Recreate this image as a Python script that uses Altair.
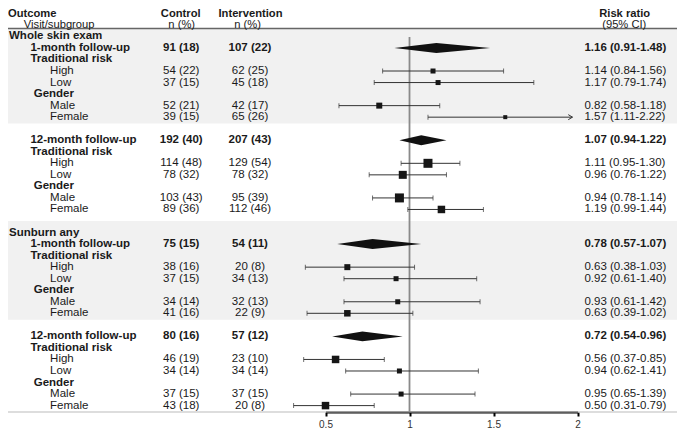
import altair as alt
import pandas as pd

# ---------------- data ----------------
outcomes = ["Whole skin exam", "Sunburn any"]
visits = ["1-month follow-up", "12-month follow-up"]
subgroups = [("Traditional risk", ["High", "Low"]), ("Gender", ["Male", "Female"])]

# one list per (outcome, visit): [overall, High, Low, Male, Female]
control_n = [
    ["91 (18)", "54 (22)", "37 (15)", "52 (21)", "39 (15)"],
    ["192 (40)", "114 (48)", "78 (32)", "103 (43)", "89 (36)"],
    ["75 (15)", "38 (16)", "37 (15)", "34 (14)", "41 (16)"],
    ["80 (16)", "46 (19)", "34 (14)", "37 (15)", "43 (18)"],
]
intervention_n = [
    ["107 (22)", "62 (25)", "45 (18)", "42 (17)", "65 (26)"],
    ["207 (43)", "129 (54)", "78 (32)", "95 (39)", "112 (46)"],
    ["54 (11)", "20 (8)", "34 (13)", "32 (13)", "22 (9)"],
    ["57 (12)", "23 (10)", "34 (14)", "37 (15)", "20 (8)"],
]
rr_est = [
    [1.16, 1.14, 1.17, 0.82, 1.57],
    [1.07, 1.11, 0.96, 0.94, 1.19],
    [0.78, 0.63, 0.92, 0.93, 0.63],
    [0.72, 0.56, 0.94, 0.95, 0.50],
]
rr_lo = [
    [0.91, 0.84, 0.79, 0.58, 1.11],
    [0.94, 0.95, 0.76, 0.78, 0.99],
    [0.57, 0.38, 0.61, 0.61, 0.39],
    [0.54, 0.37, 0.62, 0.65, 0.31],
]
rr_hi = [
    [1.48, 1.56, 1.74, 1.18, 2.22],
    [1.22, 1.30, 1.22, 1.14, 1.44],
    [1.07, 1.03, 1.40, 1.42, 1.02],
    [0.96, 0.85, 1.41, 1.39, 0.79],
]
# relative weight of each subgroup estimate (square size): High, Low, Male, Female
weights = [
    [5, 5, 6, 4],
    [9, 8, 9, 7.5],
    [6, 5, 5, 6.5],
    [7.5, 5, 5, 7.5],
]
x_ticks = [0.5, 1, 1.5, 2]
x_clip = 1.97

# ---------------- table building ----------------
rows = []
r = 0
for oi, outcome in enumerate(outcomes):
    if oi > 0:
        r += 1
    rows.append(dict(row=r, kind="section", label=outcome))
    r += 1
    for vi, visit in enumerate(visits):
        if vi > 0:
            r += 1
        k = oi * 2 + vi
        rows.append(dict(row=r, kind="visit", label=visit,
                         ctrl=control_n[k][0], intv=intervention_n[k][0],
                         est=rr_est[k][0], lo=rr_lo[k][0], hi=rr_hi[k][0],
                         first=(vi == 0)))
        r += 1
        j = 1
        for gi, (g, levels) in enumerate(subgroups):
            rows.append(dict(row=r, kind="group%d" % gi, label=g))
            r += 1
            for lev in levels:
                rows.append(dict(row=r, kind="leaf", label=lev,
                                 ctrl=control_n[k][j], intv=intervention_n[k][j],
                                 est=rr_est[k][j], lo=rr_lo[k][j], hi=rr_hi[k][j],
                                 w=weights[k][j - 1]))
                r += 1
                j += 1
df = pd.DataFrame(rows)
n_rows = int(df["row"].max())
est_rows = df[df["est"].notna()].copy()
est_rows["rrtext"] = est_rows.apply(
    lambda d: f"{d.est:.2f} ({d.lo:.2f}-{d.hi:.2f})", axis=1)
est_rows["hi_c"] = est_rows["hi"].clip(upper=x_clip)
leaf = est_rows[est_rows["kind"] == "leaf"].copy()
visit_rows = est_rows[est_rows["kind"] == "visit"].copy()

# whisker caps (not drawn where the interval is clipped)
caps = pd.concat([
    leaf[["row", "lo"]].rename(columns={"lo": "x"}),
    leaf[leaf["hi"] <= x_clip][["row", "hi"]].rename(columns={"hi": "x"}),
])
arrows = leaf[leaf["hi"] > x_clip][["row", "hi_c"]]

# diamonds for overall estimates
half = 0.43
dia = []
for _, d in visit_rows.iterrows():
    for xv, f in [(d.lo, 0), (d.est, 1), (d.hi, 0)]:
        dia.append(dict(key=int(d.row), x=xv, y1=d.row - f * half, y2=d.row + f * half))
dia = pd.DataFrame(dia)

# shaded bands behind the first visit of each outcome
sec = df[df["kind"] == "section"]
bands = pd.DataFrame(dict(top=(sec["row"] - 1).clip(lower=-0.65), bot=sec["row"] + 7.55))

# ---------------- layout ----------------
W, H = 669, 404
FONT = "Liberation Sans"
FS = 11.5
HFS = 11.2
TXT = "#1a1a1a"
xscale = alt.Scale(domain=[0.5, 2], range=[317.5, 569.5], nice=False, zero=False)
yscale = alt.Scale(domain=[0, n_rows], range=[28.4, 397.6], nice=False, zero=False)
xaxis = alt.Axis(values=x_ticks, format="~g", title=None, grid=False,
                 domainColor="black", domainWidth=2, tickColor="black",
                 tickWidth=2, tickSize=4, labelFontSize=10, labelColor="#333",
                 labelPadding=3, labelFont=FONT, labelFlush=False)


def X(f):
    return alt.X(f, type="quantitative", scale=xscale, axis=xaxis)


def Y(f):
    return alt.Y(f, type="quantitative", scale=yscale, axis=None)


one = pd.DataFrame({"v": [1]})
layers = []

layers.append(alt.Chart(bands).mark_rect(color="#f1f1f1").encode(
    x=alt.value(0), x2=alt.value(W), y=Y("top"), y2=alt.Y2("bot")))
layers.append(alt.Chart(one).mark_rule(color="#666", strokeWidth=1.5).encode(
    x=alt.value(0), x2=alt.value(W), y=alt.value(20.5)))
layers.append(alt.Chart(one).mark_rule(color="#bbb", strokeWidth=1).encode(
    x=alt.value(0), x2=alt.value(W), y=alt.value(H)))
layers.append(alt.Chart(one).mark_rule(color="#8a8a8a", strokeWidth=1.8).encode(
    x=X("v"), y=alt.value(29), y2=alt.value(H)))

layers.append(alt.Chart(leaf).mark_rule(color="#333", strokeWidth=1).encode(
    x=X("lo"), x2=alt.X2("hi_c"), y=Y("row")))
layers.append(alt.Chart(caps).mark_tick(orient="vertical", size=5, thickness=1, color="#333").encode(
    x=X("x"), y=Y("row")))
layers.append(alt.Chart(arrows).mark_point(
    shape="M-1,-0.6L0,0L-1,0.6", filled=False, size=70, color="#333", strokeWidth=1, opacity=1).encode(
    x=X("hi_c"), y=Y("row")))
layers.append(alt.Chart(leaf).mark_square(color="#161616", opacity=1).encode(
    x=X("est"), y=Y("row"),
    size=alt.Size("w:Q", scale=alt.Scale(type="pow", exponent=2, domain=[0, 10], range=[0, 100]), legend=None)))
layers.append(alt.Chart(dia).mark_area(color="#111", opacity=1).encode(
    x=X("x"), y=Y("y1"), y2=alt.Y2("y2"), detail="key:N"))

# row labels
label_pos = {"section": (1, "bold"), "visit": (22.4, "bold"), "group0": (22.4, "bold"),
             "group1": (25.7, "bold"), "leaf": (42.1, "normal")}
for kind, (px, fw) in label_pos.items():
    layers.append(alt.Chart(df).transform_filter(alt.datum.kind == kind).mark_text(
        align="left", baseline="middle", fontSize=FS, fontWeight=fw, font=FONT, color=TXT).encode(
        x=alt.value(px), y=Y("row"), text="label:N"))

for sub, fw in [(visit_rows, "bold"), (leaf, "normal")]:
    layers.append(alt.Chart(sub).mark_text(align="center", baseline="middle", fontSize=FS,
                                           fontWeight=fw, font=FONT, color=TXT).encode(
        x=alt.value(173.2), y=Y("row"), text="ctrl:N"))
    layers.append(alt.Chart(sub).mark_text(align="center", baseline="middle", fontSize=FS,
                                           fontWeight=fw, font=FONT, color=TXT).encode(
        x=alt.value(242.0), y=Y("row"), text="intv:N"))
    layers.append(alt.Chart(sub).mark_text(align="left", baseline="middle", fontSize=FS,
                                           fontWeight=fw, font=FONT, color=TXT).encode(
        x=alt.value(576.4), y=Y("row"), text="rrtext:N"))

# column headers
headers = [
    ("Outcome", 0, 5.6, "left", "bold"),
    ("Visit/subgroup", 15.8, 16.9, "left", "normal"),
    ("Control", 172.7, 5.6, "center", "bold"),
    ("n (%)", 173.7, 16.9, "center", "normal"),
    ("Intervention", 242.5, 5.6, "center", "bold"),
    ("n (%)", 239.6, 16.9, "center", "normal"),
    ("Risk ratio", 591.2, 5.6, "left", "bold"),
    ("(95% CI)", 594.2, 16.9, "left", "normal"),
]
for t, px, py, al, fw in headers:
    layers.append(alt.Chart(pd.DataFrame({"t": [t]})).mark_text(
        align=al, baseline="middle", fontSize=HFS, fontWeight=fw, font=FONT, color=TXT).encode(
        x=alt.value(px), y=alt.value(py), text="t:N"))

chart = alt.layer(*layers).properties(
    width=W, height=H,
    autosize=alt.AutoSizeParams(type="none"),
    padding={"left": 0, "top": 0, "right": 0, "bottom": 19},
).configure_view(stroke=None)

chart.save("out.html", embed_options={"renderer": "svg", "actions": False})
